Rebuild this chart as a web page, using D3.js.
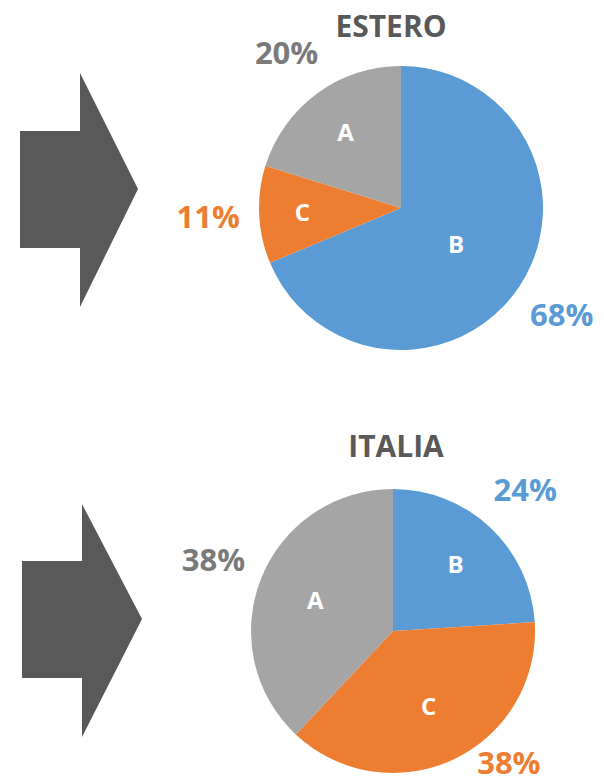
<!DOCTYPE html>
<html>
<head>
<meta charset="utf-8">
<script src="https://cdn.jsdelivr.net/npm/d3@7"></script>
<style>
  body { margin: 0; background: #fff; }
  svg { display: block; }
  text { font-family: "Open Sans", "Liberation Sans", sans-serif; font-weight: bold; }
</style>
</head>
<body>
<svg width="604" height="784"></svg>
<script>
// dati: ordine in senso orario partendo dalle ore 12
var categories = ["B", "C", "A"];
var esteroValues = [68, 11, 20];
var italiaValues = [24, 38, 38];
var titles = ["ESTERO", "ITALIA"];

var sliceColor = { "A": "#a5a5a5", "B": "#5b9bd5", "C": "#ed7d31" };
var labelColor = { "A": "#7a7a7a", "B": "#5b9bd5", "C": "#ed7d31" };

const svg = d3.select('svg');
const width = +svg.attr('width');
const height = +svg.attr('height');
const radius = 142;
const labelRadius = 193;

// pannelli: centro torta, titolo, freccia
var panels = [
    { title: titles[0], values: esteroValues, cx: 401, cy: 208, titleX: 391, titleY: 37,
      arrow: { x0: 20, x1: 80, y0: 131, y1: 248, top: 73, bottom: 307, tip: 138, mid: 189 } },
    { title: titles[1], values: italiaValues, cx: 393, cy: 631, titleX: 396, titleY: 457,
      arrow: { x0: 22, x1: 82, y0: 561, y1: 678, top: 504, bottom: 737, tip: 142, mid: 619 } }
];

const pie = d3.pie().sort(null).value(d => d.value);
const arc = d3.arc().innerRadius(0).outerRadius(radius);
const outerArc = d3.arc().innerRadius(labelRadius).outerRadius(labelRadius);

panels.forEach(function (p) {
    // freccia
    var a = p.arrow;
    svg.append("path")
        .attr("fill", "#595959")
        .attr("d", "M" + a.x0 + "," + a.y0 + "L" + a.x1 + "," + a.y0 + "L" + a.x1 + "," + a.top +
            "L" + a.tip + "," + a.mid + "L" + a.x1 + "," + a.bottom + "L" + a.x1 + "," + a.y1 +
            "L" + a.x0 + "," + a.y1 + "Z");

    // titolo
    svg.append("text")
        .attr("x", p.titleX)
        .attr("y", p.titleY)
        .attr("text-anchor", "middle")
        .attr("fill", "#595959")
        .style("font-size", "30px")
        .text(p.title);

    var data = categories.map((c, i) => ({ name: c, value: p.values[i] }));
    var total = d3.sum(data, d => d.value);
    var arcs = pie(data);

    var g = svg.append("g")
        .attr("transform", `translate(${p.cx},${p.cy})`);

    g.selectAll(".slice")
        .data(arcs)
        .enter().append("path")
        .attr("class", "slice")
        .attr("fill", d => sliceColor[d.data.name])
        .attr("d", arc);

    // lettere dentro le fette
    g.selectAll(".inner")
        .data(arcs)
        .enter().append("text")
        .attr("class", "inner")
        .attr("transform", function (d) {
            var frac = d.data.value / total;
            var r = radius * (0.74 - 0.4 * frac);
            var c = d3.arc().innerRadius(r).outerRadius(r).centroid(d);
            return "translate(" + c + ")";
        })
        .attr("text-anchor", "middle")
        .attr("dy", "0.36em")
        .attr("fill", "#fff")
        .style("font-size", "24px")
        .text(d => d.data.name);

    // percentuali fuori (se escono in basso scivolano verso l'esterno)
    g.selectAll(".pct")
        .data(arcs)
        .enter().append("text")
        .attr("class", "pct")
        .attr("transform", function (d) {
            var c = outerArc.centroid(d);
            var maxY = height - 21 - p.cy;
            if (c[1] > maxY) {
                c[1] = maxY;
                var rr = labelRadius * 0.91;
                c[0] = Math.sign(c[0]) * Math.sqrt(Math.max(0, rr * rr - maxY * maxY));
            }
            return "translate(" + c + ")";
        })
        .attr("text-anchor", "middle")
        .attr("dy", "0.36em")
        .attr("fill", d => labelColor[d.data.name])
        .style("font-size", "31px")
        .text(d => d.data.value + "%");
});
</script>
</body>
</html>
